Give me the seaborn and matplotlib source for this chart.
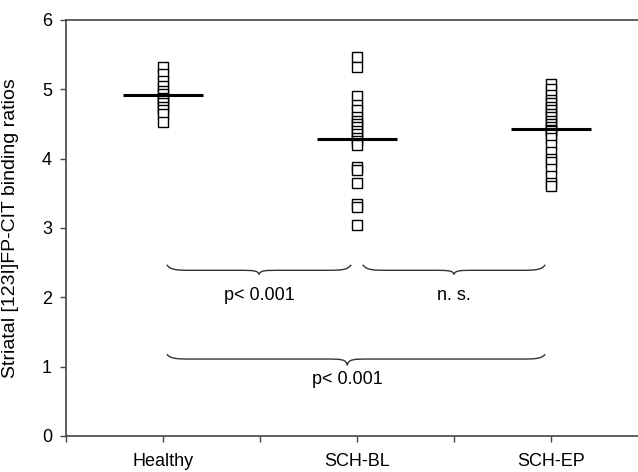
import matplotlib
matplotlib.use('Agg')
import matplotlib.pyplot as plt
from matplotlib.path import Path
import matplotlib.patches as mpatches
import seaborn as sns
import pandas as pd
import numpy as np

GROUPS = ['Healthy', 'SCH-BL', 'SCH-EP']

healthy = [5.32, 5.22, 5.12, 5.05, 4.98, 4.93, 4.88, 4.85, 4.80, 4.75, 4.70, 4.65, 4.53]
sch_bl = [5.47, 5.32, 4.90, 4.78, 4.70, 4.60, 4.55, 4.50, 4.45, 4.40, 4.35, 4.30,
          4.25, 4.20, 3.88, 3.83, 3.65, 3.35, 3.30, 3.05]
sch_ep = [5.08, 5.00, 4.92, 4.85, 4.80, 4.75, 4.70, 4.65, 4.60, 4.55, 4.50, 4.45,
          4.42, 4.40, 4.35, 4.30, 4.20, 4.10, 4.00, 3.95, 3.85, 3.75, 3.65, 3.60]
group_means = [4.92, 4.29, 4.43]

# comparisons: (from group, to group, label)
comparisons = [('Healthy', 'SCH-BL', 'p< 0.001'),
               ('SCH-BL', 'SCH-EP', 'n. s.'),
               ('Healthy', 'SCH-EP', 'p< 0.001')]

df = pd.DataFrame({
    'group': ['Healthy'] * len(healthy) + ['SCH-BL'] * len(sch_bl) + ['SCH-EP'] * len(sch_ep),
    'ratio': healthy + sch_bl + sch_ep,
})

sns.set_style('ticks')
plt.rcParams['font.family'] = ['Liberation Sans', 'DejaVu Sans']
TXT = 13
LINE = '#444444'


def draw_brace(ax, x0, x1, y_end, y_line, y_tip, xm=None, color='#333333'):
    """Curly brace opening upward, tip pointing down."""
    if xm is None:
        xm = (x0 + x1) / 2
    w = 0.06
    verts = [
        (x0, y_end), (x0 + w * 0.3, y_line), (x0 + w, y_line), (x0 + 2 * w, y_line),
        (xm - 2 * w, y_line),
        (xm - w * 0.5, y_line), (xm - w * 0.1, y_line), (xm, y_tip),
        (xm + w * 0.1, y_line), (xm + w * 0.5, y_line), (xm + 2 * w, y_line),
        (x1 - 2 * w, y_line),
        (x1 - w, y_line), (x1 - w * 0.3, y_line), (x1, y_end),
    ]
    codes = [Path.MOVETO, Path.CURVE4, Path.CURVE4, Path.CURVE4,
             Path.LINETO,
             Path.CURVE4, Path.CURVE4, Path.CURVE4,
             Path.CURVE4, Path.CURVE4, Path.CURVE4,
             Path.LINETO,
             Path.CURVE4, Path.CURVE4, Path.CURVE4]
    ax.add_patch(mpatches.PathPatch(Path(verts, codes), facecolor='none',
                                    edgecolor=color, linewidth=1.0))


fig = plt.figure(figsize=(6.38, 4.72), dpi=100, facecolor='white')
ax = fig.add_axes([66 / 638, 36 / 472, 582 / 638, 416 / 472])

sns.stripplot(data=df, x='group', y='ratio', order=GROUPS, jitter=False,
              marker='s', color='white', edgecolor='black', linewidth=1.0,
              size=6.8, ax=ax, zorder=2)

pos = {g: i for i, g in enumerate(GROUPS)}
ax.hlines(group_means, [pos[g] - 0.205 for g in GROUPS], [pos[g] + 0.205 for g in GROUPS],
          colors='black', linewidth=2.2, zorder=3)

# significance braces
brace_rows = [(2.47, 2.39, 2.33, 2.03), (2.47, 2.39, 2.33, 2.03), (1.18, 1.11, 1.02, 0.82)]
for (g0, g1, lab), (ye, yl, yt, ytxt) in zip(comparisons, brace_rows):
    x0, x1 = pos[g0] + 0.02, pos[g1] - 0.03
    if g0 == 'SCH-BL':
        x0 = pos[g0] + 0.03
    xm = (x0 + x1) / 2 if lab == 'n. s.' or g1 == 'SCH-BL' else 0.95
    draw_brace(ax, x0, x1, ye, yl, yt, xm=xm)
    ax.text(xm, ytxt, lab, ha='center', va='center', fontsize=TXT, color='black')

ax.set_xlim(-0.5, 2.5)
ax.set_ylim(0, 6)
ax.set_yticks(range(0, 7))
ax.set_xticks(range(len(GROUPS)))
ax.set_xticklabels(GROUPS)
ax.set_xticks([-0.5, 0.5, 1.5], minor=True)
ax.tick_params(axis='both', which='both', direction='out', length=4, width=1.0,
               color=LINE, labelsize=TXT, labelcolor='black')
ax.tick_params(axis='x', pad=8)
ax.tick_params(axis='y', pad=6)

ax.set_xlabel('')
ax.set_ylabel('Striatal [123I]FP-CIT binding ratios', fontsize=14, color='black')
ax.yaxis.set_label_coords(-0.08, 0.5)

for side in ['left', 'bottom', 'top', 'right']:
    ax.spines[side].set_color(LINE)
    ax.spines[side].set_linewidth(1.2)

fig.savefig('out.png', dpi=100, facecolor='white')
plt.close(fig)
